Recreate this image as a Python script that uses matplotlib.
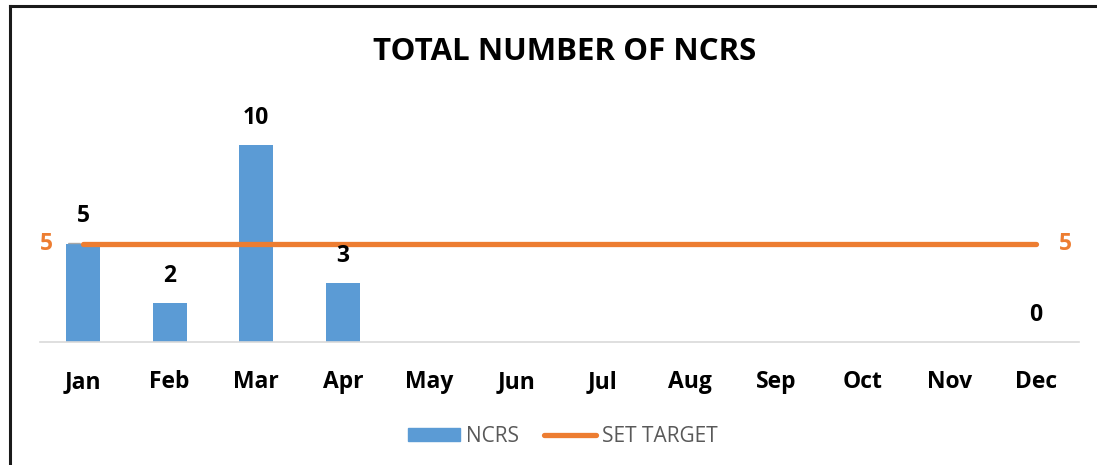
import matplotlib.pyplot as plt
from matplotlib.lines import Line2D

months = ['Jan', 'Feb', 'Mar', 'Apr', 'May', 'Jun', 'Jul', 'Aug', 'Sep', 'Oct', 'Nov', 'Dec']
ncrs = [5, 2, 10, 3, None, None, None, None, None, None, None, 0]
target = [5] * 12

blue = '#5B9BD5'
orange = '#ED7D31'

plt.rcParams['font.family'] = ['Open Sans', 'DejaVu Sans']

fig = plt.figure(figsize=(10.97, 4.65), dpi=100)
ax = fig.add_axes([0.0362, 0.2645, 0.9477, 0.5084])

x = list(range(len(months)))
heights = [v if v is not None else 0 for v in ncrs]
ax.bar(x, heights, width=0.39, color=blue, zorder=2)
ax.plot(x, target, color=orange, lw=3.8, solid_capstyle='round', zorder=3)

# data labels on bars
for i, v in enumerate(ncrs):
    if v is None:
        continue
    ax.annotate(str(v), (i, v), xytext=(0, 19.5), textcoords='offset points',
                ha='center', va='center', fontsize=16.5, fontweight='bold', color='black')

# target labels at both ends
ax.annotate(str(target[0]), (0, target[0]), xytext=(-26, 0), textcoords='offset points',
            ha='center', va='center', fontsize=16.5, fontweight='bold', color=orange,
            arrowprops=dict(arrowstyle='-', color='#A6A6A6', lw=1, shrinkA=9, shrinkB=2))
ax.annotate(str(target[-1]), (11, target[-1]), xytext=(21, 0), textcoords='offset points',
            ha='center', va='center', fontsize=16.5, fontweight='bold', color=orange)

ax.set_xlim(-0.5, 11.5)
ax.set_ylim(0, 12)
ax.set_yticks([])
ax.set_xticks(x)
ax.set_xticklabels(months, fontsize=16.5, fontweight='bold')
ax.tick_params(axis='x', length=0, pad=20)
for s in ['top', 'right', 'left']:
    ax.spines[s].set_visible(False)
ax.spines['bottom'].set_color('#D9D9D9')
ax.spines['bottom'].set_linewidth(1.2)

fig.text(0.5146, 0.889, 'TOTAL NUMBER OF NCRS', ha='center', va='center',
         fontsize=22.5, fontweight='bold', color='black')

handles = [plt.Rectangle((0, 0), 1, 1, color=blue),
           Line2D([0], [0], color=orange, lw=3.8, solid_capstyle='round')]
fig.legend(handles, ['NCRS', 'SET TARGET'], loc='center', bbox_to_anchor=(0.513, 0.062),
           ncol=2, frameon=False, fontsize=15, labelcolor='#595959',
           handlelength=2.5, handleheight=0.55, columnspacing=1.2, handletextpad=0.3)

# outer frame (top and left edges only)
fig.add_artist(Line2D([0.0095, 1.0], [0.987, 0.987], color='#1A1A1A', lw=2.2))
fig.add_artist(Line2D([0.0095, 0.0095], [0.0, 0.987], color='#1A1A1A', lw=2.2))

fig.savefig('out.png', dpi=100)
